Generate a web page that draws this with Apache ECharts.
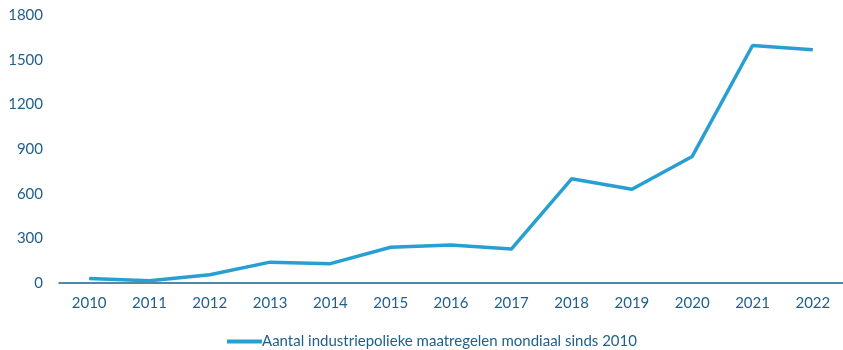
<!DOCTYPE html>
<html>
<head>
<meta charset="utf-8">
<script src="https://cdn.jsdelivr.net/npm/echarts@6/dist/echarts.min.js"></script>
<style>
  html, body { margin: 0; padding: 0; background: #ffffff; }
  #chart { width: 843px; height: 350px; }
</style>
</head>
<body>
<div id="chart"></div>
<script>
// Jaren op de x-as
const years = ['2010', '2011', '2012', '2013', '2014', '2015', '2016', '2017', '2018', '2019', '2020', '2021', '2022'];
// Aantal industriepolitieke maatregelen per jaar
const measures = [30, 15, 55, 140, 130, 240, 255, 228, 700, 630, 850, 1595, 1567];
const seriesName = 'Aantal industriepolieke maatregelen mondiaal sinds 2010';

const labelColor = '#1f5f8b';
const lineColor = '#289fd2';
const fontFamily = 'Lato, "Open Sans", sans-serif';

const chart = echarts.init(document.getElementById('chart'));
chart.setOption({
  animation: false,
  textStyle: { fontFamily: fontFamily },
  grid: { left: 59, right: 0, top: 15, bottom: 67 },
  legend: {
    top: 334,
    left: 227,
    padding: 0,
    itemWidth: 35,
    itemHeight: 4,
    itemGap: 2,
    icon: 'rect',
    data: [seriesName],
    textStyle: { color: labelColor, fontSize: 15, fontFamily: fontFamily, padding: [0, 0, 0, -5] }
  },
  xAxis: {
    type: 'category',
    data: years,
    boundaryGap: true,
    axisLine: { lineStyle: { color: labelColor, width: 1.5 } },
    axisTick: { show: false },
    axisLabel: { color: labelColor, fontSize: 15, margin: 13 }
  },
  yAxis: {
    type: 'value',
    min: 0,
    max: 1800,
    interval: 300,
    splitLine: { show: false },
    axisLine: { show: false },
    axisTick: { show: false },
    axisLabel: {
      color: labelColor,
      fontSize: 15,
      margin: 16,
      formatter: function (v) { return String(v); }
    }
  },
  series: [{
    name: seriesName,
    type: 'line',
    data: measures,
    symbol: 'none',
    lineStyle: { color: lineColor, width: 3.5 },
    itemStyle: { color: lineColor }
  }]
});
</script>
</body>
</html>
